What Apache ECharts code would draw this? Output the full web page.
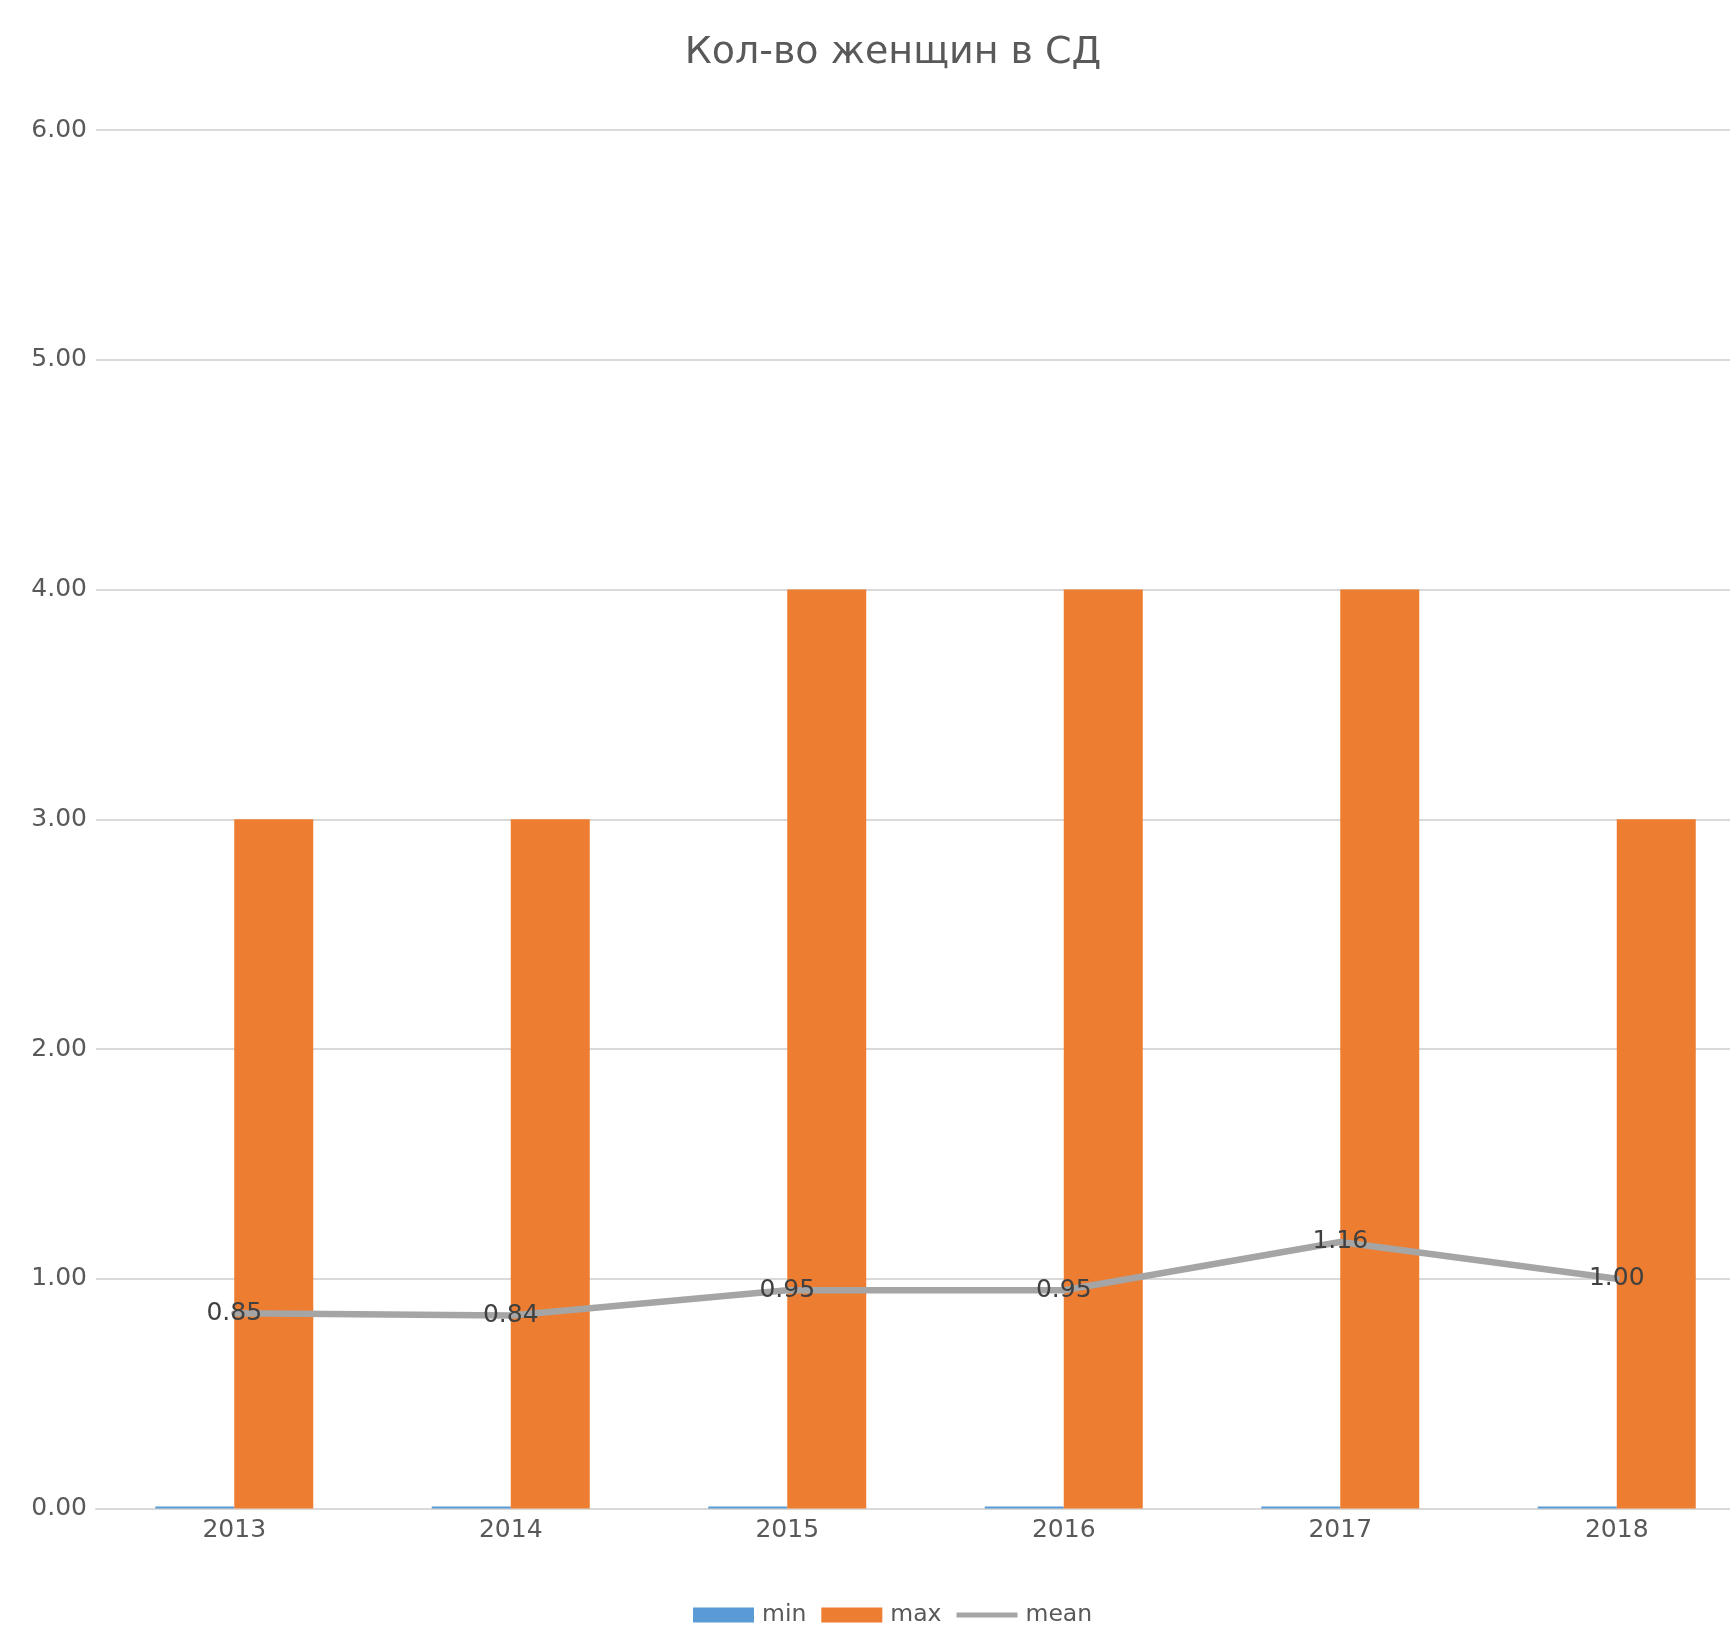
<!DOCTYPE html>
<html>
<head>
<meta charset="utf-8">
<script src="https://cdn.jsdelivr.net/npm/echarts@6/dist/echarts.min.js"></script>
<style>
html,body{margin:0;padding:0;background:#fff;overflow:hidden;}
#chart{width:1765px;height:1626px;}
</style>
</head>
<body>
<div id="chart"></div>
<script>
const titleText = 'Кол-во женщин в СД';
const categories = ['2013', '2014', '2015', '2016', '2017', '2018'];
const minValues = [0, 0, 0, 0, 0, 0];
const maxValues = [3, 3, 4, 4, 4, 3];
const meanValues = [0.85, 0.84, 0.95, 0.95, 1.16, 1.00];

const chart = echarts.init(document.getElementById('chart'), null, {renderer: 'canvas'});
const font = 'DejaVu Sans';
chart.setOption({
  animation: false,
  backgroundColor: '#ffffff',
  textStyle: {fontFamily: font},
  title: {
    text: titleText,
    left: 888,
    top: 29,
    textAlign: 'center',
    textStyle: {fontFamily: font, fontSize: 38, fontWeight: 'normal', color: '#595959'}
  },
  legend: {
    bottom: -6,
    left: 688,
    itemWidth: 61,
    itemHeight: 15,
    itemGap: 15,
    textStyle: {fontFamily: font, fontSize: 23.5, color: '#595959', padding: [0, 0, 0, 3]},
    data: [
      {name: 'min', icon: 'rect'},
      {name: 'max', icon: 'rect'},
      {name: 'mean', icon: 'path://M0,0 L61,0 L61,5 L0,5 Z'}
    ]
  },
  grid: {left: 96, top: 130, right: 10, bottom: 117.5, containLabel: false},
  xAxis: {
    type: 'category',
    data: categories,
    axisTick: {show: false},
    axisLine: {lineStyle: {color: '#D9D9D9', width: 2}},
    axisLabel: {fontFamily: font, fontSize: 25, color: '#595959', margin: 9}
  },
  yAxis: {
    type: 'value',
    min: 0, max: 6, interval: 1,
    axisLine: {show: false},
    axisTick: {show: false},
    splitLine: {lineStyle: {color: '#D9D9D9', width: 2}},
    axisLabel: {fontFamily: font, fontSize: 25, color: '#595959', margin: 9,
      formatter: v => v.toFixed(2)}
  },
  series: [
    {name: 'min', type: 'bar', data: minValues, barWidth: 79, barGap: '0%',
      barMinHeight: 2, itemStyle: {color: '#5B9BD5'}},
    {name: 'max', type: 'bar', data: maxValues, barWidth: 79, barGap: '0%',
      itemStyle: {color: '#ED7D31'}},
    {name: 'mean', type: 'line', data: meanValues, symbol: 'circle', symbolSize: 6,
      itemStyle: {color: '#A5A5A5'},
      lineStyle: {color: '#A5A5A5', width: 6.5},
      label: {show: true, position: 'inside', fontFamily: font, fontSize: 25, color: '#404040',
        formatter: p => p.value.toFixed(2)},
      z: 5}
  ]
});
</script>
</body>
</html>
